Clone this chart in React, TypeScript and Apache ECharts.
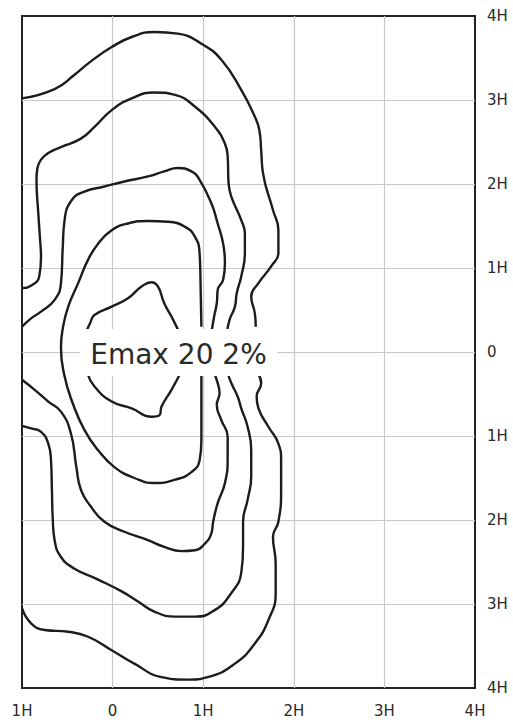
import React, { useEffect, useRef } from "react";
import * as echarts from "echarts";

const xTickLabels = ["1H", "0", "1H", "2H", "3H", "4H"];
const yTickLabels = ["4H", "3H", "2H", "1H", "0", "1H", "2H", "3H", "4H"];

const annotationText = "Emax 20 2%";

// Outermost contour (level 5)
const contour5Top = [
  [-1.0, 3.02], [-0.64, 3.13], [-0.42, 3.3], [-0.24, 3.46], [-0.01, 3.63], [0.21, 3.75],
  [0.46, 3.81], [0.72, 3.79], [0.98, 3.67], [1.2, 3.48], [1.42, 3.12], [1.57, 2.8],
  [1.62, 2.64], [1.64, 2.4], [1.66, 2.13], [1.77, 1.69], [1.83, 1.45], [1.83, 1.18],
  [1.75, 1.02], [1.61, 0.82], [1.53, 0.66], [1.57, 0.46], [1.58, 0.3],
];
const contour5Bottom = [
  [1.6, -0.25], [1.64, -0.37], [1.59, -0.53], [1.61, -0.67], [1.72, -0.89], [1.83, -1.09],
  [1.86, -1.29], [1.86, -1.64], [1.83, -2.02], [1.77, -2.2], [1.8, -2.52], [1.8, -2.87],
  [1.72, -3.19], [1.57, -3.47], [1.35, -3.71], [1.05, -3.87], [0.83, -3.9], [0.54, -3.87],
  [0.24, -3.71], [-0.01, -3.55], [-0.27, -3.39], [-0.49, -3.33], [-0.75, -3.31],
  [-0.9, -3.23], [-1.0, -3.05],
];

// Contour level 4
const contour4Top = [
  [-1.0, 0.76], [-0.9, 0.79], [-0.81, 0.9], [-0.79, 1.13], [-0.8, 1.33], [-0.82, 1.65],
  [-0.84, 2.05], [-0.83, 2.19], [-0.79, 2.29], [-0.71, 2.37], [-0.57, 2.44], [-0.35, 2.54],
  [-0.2, 2.68], [-0.01, 2.88], [0.21, 3.02], [0.46, 3.09], [0.69, 3.06], [0.91, 2.92],
  [1.13, 2.68], [1.24, 2.48], [1.27, 2.33], [1.28, 2.01], [1.31, 1.85], [1.42, 1.57],
  [1.46, 1.41], [1.46, 1.18], [1.42, 0.9], [1.37, 0.7], [1.35, 0.54], [1.29, 0.38],
  [1.26, 0.22],
];
const contour4Bottom = [
  [1.27, -0.25], [1.31, -0.37], [1.38, -0.53], [1.42, -0.67], [1.49, -0.89], [1.53, -1.17],
  [1.53, -1.48], [1.49, -1.76], [1.44, -2.02], [1.44, -2.32], [1.42, -2.63], [1.31, -2.87],
  [1.13, -3.07], [0.91, -3.15], [0.69, -3.15], [0.46, -3.09], [0.28, -2.97], [0.1, -2.85],
  [-0.16, -2.71], [-0.42, -2.58], [-0.57, -2.44], [-0.64, -2.24], [-0.66, -2.0],
  [-0.67, -1.64], [-0.68, -1.29], [-0.71, -1.09], [-0.79, -0.95], [-0.9, -0.91], [-1.0, -0.88],
];

// Contour level 3
const contour3Top = [
  [-1.0, 0.3], [-0.9, 0.4], [-0.79, 0.48], [-0.64, 0.62], [-0.57, 0.82], [-0.55, 1.25],
  [-0.53, 1.57], [-0.45, 1.81], [-0.31, 1.91], [-0.09, 1.97], [0.13, 2.03], [0.39, 2.09],
  [0.57, 2.15], [0.72, 2.19], [0.87, 2.15], [0.96, 2.05], [1.09, 1.77], [1.16, 1.53],
  [1.22, 1.29], [1.24, 1.06], [1.22, 0.86], [1.16, 0.74], [1.15, 0.58], [1.12, 0.42],
  [1.09, 0.22],
];
const contour3Bottom = [
  [1.12, -0.25], [1.16, -0.37], [1.18, -0.49], [1.15, -0.63], [1.2, -0.81], [1.27, -1.01],
  [1.27, -1.25], [1.24, -1.56], [1.16, -1.8], [1.11, -2.02], [1.09, -2.16], [1.02, -2.28],
  [0.91, -2.36], [0.76, -2.37], [0.57, -2.32], [0.39, -2.24], [0.13, -2.14], [-0.09, -2.02],
  [-0.24, -1.84], [-0.35, -1.64], [-0.4, -1.37], [-0.46, -0.97], [-0.57, -0.71],
  [-0.71, -0.59], [-0.86, -0.45], [-1.0, -0.33],
];

// Contour level 2
const contour2 = [
  [0.98, 0.3], [0.97, 0.86], [0.96, 1.18], [0.91, 1.37], [0.8, 1.49], [0.61, 1.55],
  [0.39, 1.56], [0.17, 1.53], [-0.01, 1.45], [-0.16, 1.29], [-0.27, 1.1], [-0.38, 0.82],
  [-0.49, 0.54], [-0.55, 0.28], [-0.57, 0.05], [-0.53, -0.29], [-0.44, -0.61],
  [-0.31, -0.93], [-0.16, -1.17], [0.02, -1.37], [0.24, -1.5], [0.46, -1.56], [0.69, -1.52],
  [0.87, -1.43], [0.96, -1.29], [0.98, -1.05], [0.98, -0.27],
];

// Innermost contour (level 1)
const contour1Top = [
  [-0.31, 0.2], [-0.25, 0.34], [-0.2, 0.44], [-0.01, 0.54], [0.17, 0.64], [0.32, 0.78],
  [0.43, 0.83], [0.5, 0.78], [0.57, 0.58], [0.67, 0.38], [0.75, 0.2],
];
const contour1Bottom = [
  [-0.28, -0.25], [-0.2, -0.41], [-0.01, -0.59], [0.21, -0.67], [0.43, -0.77], [0.52, -0.75],
  [0.54, -0.65], [0.65, -0.45], [0.75, -0.25],
];

const contourPieces = [
  contour5Top, contour5Bottom, contour4Top, contour4Bottom, contour3Top, contour3Bottom,
  contour2, contour1Top, contour1Bottom,
];

const FONT = "DejaVu Sans";

export default function App() {
  const ref = useRef<HTMLDivElement>(null);

  useEffect(() => {
    if (!ref.current) return;
    const chart = echarts.init(ref.current, undefined, { renderer: "svg" });
    chart.setOption({
      animation: false,
      backgroundColor: "#ffffff",
      grid: {
        left: 22,
        right: 38,
        top: 16,
        bottom: 32,
        show: true,
        borderColor: "#222222",
        borderWidth: 2,
        backgroundColor: "transparent",
      },
      xAxis: {
        type: "value",
        min: -1,
        max: 4,
        interval: 1,
        position: "bottom",
        axisLine: { show: false },
        axisTick: { show: false },
        splitLine: {
          show: true,
          showMinLine: false,
          showMaxLine: false,
          lineStyle: { color: "#c8c8c8", width: 1.2 },
        },
        axisLabel: {
          margin: 15,
          fontFamily: FONT,
          fontSize: 15,
          color: "#2a2a2a",
          formatter: (v: number) => xTickLabels[Math.round(v) + 1] ?? "",
        },
      },
      yAxis: {
        type: "value",
        min: -4,
        max: 4,
        interval: 1,
        position: "right",
        axisLine: { show: false },
        axisTick: { show: false },
        splitLine: {
          show: true,
          showMinLine: false,
          showMaxLine: false,
          lineStyle: { color: "#c8c8c8", width: 1.2 },
        },
        axisLabel: {
          margin: 12,
          fontFamily: FONT,
          fontSize: 15,
          color: "#2a2a2a",
          formatter: (v: number) => yTickLabels[Math.round(v) + 4] ?? "",
        },
      },
      series: contourPieces.map((d) => ({
        type: "line",
        data: d,
        smooth: 0.5,
        showSymbol: false,
        silent: true,
        lineStyle: { color: "#1c1c1c", width: 2.4 },
        z: 3,
      })),
      graphic: [
        {
          type: "rect",
          z: 100,
          shape: { x: 80, y: 329, width: 197, height: 47 },
          style: { fill: "#ffffff" },
          silent: true,
        },
        {
          type: "text",
          z: 101,
          x: 178.5,
          y: 354,
          style: {
            text: annotationText,
            fontFamily: FONT,
            fontSize: 28,
            fill: "#2a2a2a",
            align: "center",
            verticalAlign: "middle",
          },
          silent: true,
        },
      ],
    });
    return () => chart.dispose();
  }, []);

  return (
    <div
      ref={ref}
      style={{ position: "fixed", left: 0, top: 0, width: 513, height: 720, background: "#fff" }}
    />
  );
}
